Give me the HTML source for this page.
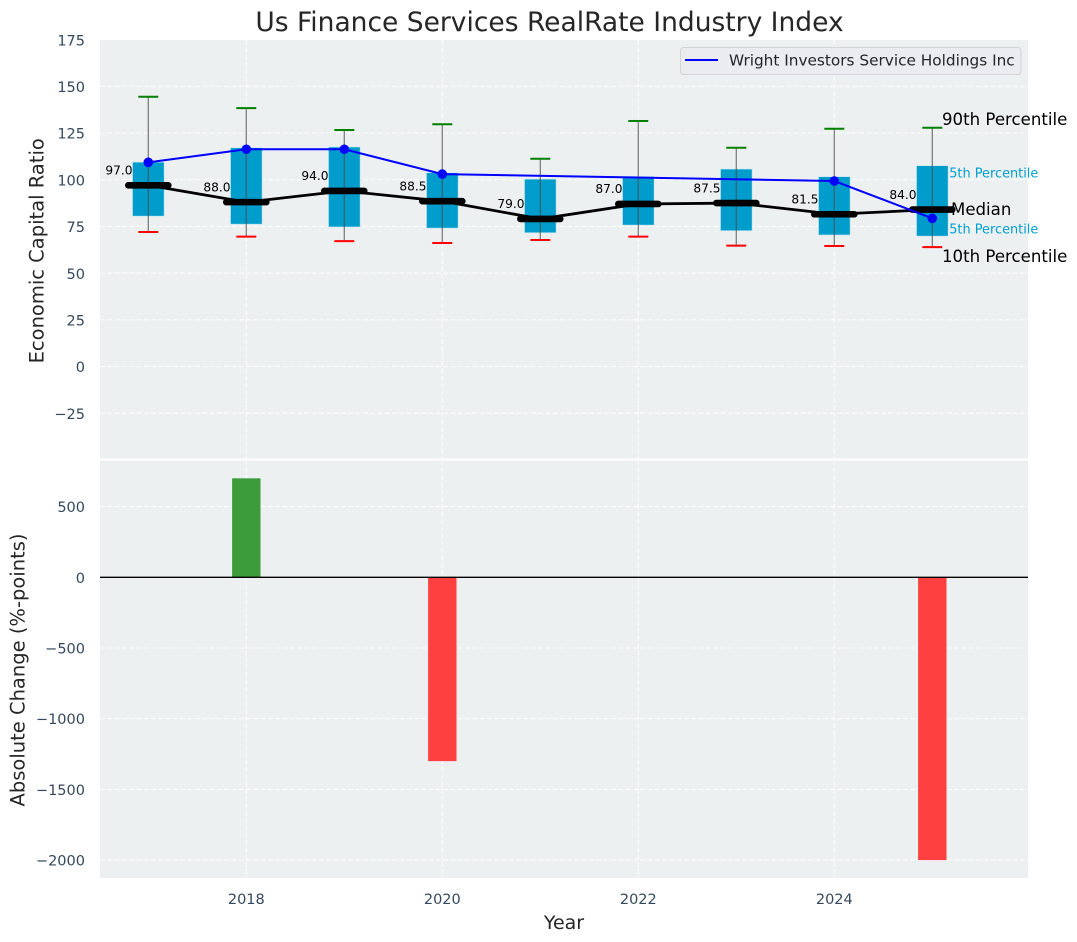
<!DOCTYPE html>
<html lang="en">
<head>
<meta charset="utf-8">
<title>Us Finance Services RealRate Industry Index</title>
<style>
html,body{margin:0;padding:0;background:#fff;}
svg{display:block;font-family:"DejaVu Sans","Liberation Sans",sans-serif;}
</style>
</head>
<body>
<svg id="chart" xmlns="http://www.w3.org/2000/svg" width="1077" height="942" viewBox="0 0 1077 942">
  <rect width="1077" height="942" fill="#ffffff"/>
  <rect x="100" y="40" width="928" height="418.5" fill="#ecf0f1"/>
  <rect x="100" y="460.5" width="928" height="417.5" fill="#ecf0f1"/>
  <g id="grid"></g>
  <g id="annot">
    <text x="942" y="125" font-size="16.6" fill="#000">90th Percentile</text>
    <text x="941" y="177.5" font-size="12.9" fill="#00a0d0">75th Percentile</text>
    <text x="951" y="215" font-size="16.6" fill="#000">Median</text>
    <text x="941" y="233.5" font-size="12.9" fill="#00a0d0">25th Percentile</text>
    <text x="942" y="262" font-size="16.6" fill="#000">10th Percentile</text>
  </g>
  <g id="marks"></g>
  <g id="axes"></g>
  <text x="549.5" y="31" text-anchor="middle" font-size="26.5" fill="#262626">Us Finance Services RealRate Industry Index</text>
  <text transform="translate(43.5,250.8) rotate(-90)" text-anchor="middle" font-size="19.5" fill="#262626">Economic Capital Ratio</text>
  <text transform="translate(24.5,670) rotate(-90)" text-anchor="middle" font-size="19.5" fill="#262626">Absolute Change (%-points)</text>
  <text x="564" y="929" text-anchor="middle" font-size="19" fill="#262626">Year</text>
  <g>
    <rect x="680.5" y="47.5" width="340.5" height="27" rx="3" fill="#eaecef" stroke="#d2d4d6" stroke-width="1"/>
    <line x1="685" y1="60" x2="718" y2="60" stroke="#0000ff" stroke-width="2"/>
    <text x="729" y="65.5" font-size="15.3" fill="#262626">Wright Investors Service Holdings Inc</text>
  </g>
</svg>
<script>
const years = [2017, 2018, 2019, 2020, 2021, 2022, 2023, 2024, 2025];
const p90 = [144.4, 138.3, 126.6, 129.7, 111.2, 131.4, 117.1, 127.3, 127.8];
const p75 = [109.4, 117.1, 117.5, 103.7, 100.3, 101.7, 105.7, 101.6, 107.5];
const medians = [97, 88, 94, 88.5, 79, 87, 87.5, 81.5, 84];
const p25 = [80.5, 76.2, 74.7, 74.1, 71.6, 75.7, 72.7, 70.4, 69.8];
const p10 = [72, 69.5, 67.1, 66.1, 67.7, 69.5, 64.7, 64.5, 63.9];
const companyValues = [109.3, 116.3, 116.3, 103, null, null, null, 99.3, 79.3];
const changeYears = [2018, 2020, 2025];
const changeValues = [700, -1300, -2000];
const topTicks = [175, 150, 125, 100, 75, 50, 25, 0, -25];
const bottomTicks = [500, 0, -500, -1000, -1500, -2000];
const xTicks = [2018, 2020, 2022, 2024];

const NS = 'http://www.w3.org/2000/svg';
function xAt(y) { return 148.3 + (y - 2017) * 98; }
function yTop(v) { return 366.5 - 1.868 * v; }
function yBottom(v) { return 577.3 - 0.1414 * v; }
function fmtTick(v) { return v < 0 ? '\u2212' + Math.abs(v) : String(v); }
function mk(parent, tag, attrs, text) {
  const el = document.createElementNS(NS, tag);
  for (const k in attrs) el.setAttribute(k, attrs[k]);
  if (text !== undefined) el.textContent = text;
  parent.appendChild(el);
  return el;
}
const grid = document.getElementById('grid');
const marks = document.getElementById('marks');
const axes = document.getElementById('axes');
const gridStyle = { stroke: '#ffffff', 'stroke-width': 1.1, 'stroke-dasharray': '5 2.3', opacity: 0.8 };
const tickFill = '#34495e';

topTicks.forEach(function (t) {
  const l = mk(grid, 'line', Object.assign({ x1: 100, x2: 1028, y1: yTop(t), y2: yTop(t) }, gridStyle));
  
  
  const lab = mk(axes, 'text', { x: 85, y: yTop(t) + 5.7, 'text-anchor': 'end', 'font-size': 14.5, fill: tickFill }, fmtTick(t));
  
  
});
bottomTicks.forEach(function (t) {
  const l = mk(grid, 'line', Object.assign({ x1: 100, x2: 1028, y1: yBottom(t), y2: yBottom(t) }, gridStyle));
  
  
  const lab = mk(axes, 'text', { x: 85, y: yBottom(t) + 5.5, 'text-anchor': 'end', 'font-size': 14.5, fill: tickFill }, fmtTick(t));
  
  
});
xTicks.forEach(function (t) {
  const a = mk(grid, 'line', Object.assign({ x1: xAt(t), x2: xAt(t), y1: 40, y2: 458.5 }, gridStyle));
  
  
  const b = mk(grid, 'line', Object.assign({ x1: xAt(t), x2: xAt(t), y1: 460.5, y2: 878 }, gridStyle));
  
  
  const lab = mk(axes, 'text', { x: xAt(t), y: 904, 'text-anchor': 'middle', 'font-size': 14.5, fill: tickFill }, String(t));
  
  
});

years.forEach(function (yr, i) {
  const lab = mk(marks, 'text', { x: xAt(yr) - 15.8, y: yTop(medians[i]) - 10.8, 'text-anchor': 'end', 'font-size': 12.2, fill: '#000' }, medians[i].toFixed(1));
  
  
  const box = mk(marks, 'rect', { x: xAt(yr) - 15.8, width: 31.6, y: yTop(p75[i]), height: yTop(p25[i]) - yTop(p75[i]), fill: '#009ccc', stroke: '#c5e6f0', 'stroke-width': 0.6 });
  
  
  const w = mk(marks, 'line', { x1: xAt(yr), x2: xAt(yr), y1: yTop(p90[i]), y2: yTop(p10[i]), stroke: '#4d4d4d', 'stroke-opacity': 0.7, 'stroke-width': 1.3 });
  
  
  const hi = mk(marks, 'line', { x1: xAt(yr) - 10, x2: xAt(yr) + 10, y1: yTop(p90[i]), y2: yTop(p90[i]), stroke: '#008000', 'stroke-width': 2 });
  
  
  const lo = mk(marks, 'line', { x1: xAt(yr) - 10, x2: xAt(yr) + 10, y1: yTop(p10[i]), y2: yTop(p10[i]), stroke: '#ff0000', 'stroke-width': 2 });
  
  
});

const medianPts = years.map(function (yr, i) { return xAt(yr) + ',' + yTop(medians[i]); }).join(' ');
const medianLine = mk(marks, 'polyline', { points: medianPts, fill: 'none', stroke: '#000', 'stroke-width': 2.8 });


years.forEach(function (yr, i) {
  const m = mk(marks, 'line', { x1: xAt(yr) - 20, x2: xAt(yr) + 20, y1: yTop(medians[i]), y2: yTop(medians[i]), stroke: '#000', 'stroke-width': 6.6, 'stroke-linecap': 'round' });
  
  
});

const companyPts = years.map(function (yr, i) { return companyValues[i] === null ? null : xAt(yr) + ',' + yTop(companyValues[i]); }).filter(Boolean).join(' ');
const companyLine = mk(marks, 'polyline', { points: companyPts, fill: 'none', stroke: '#0000ff', 'stroke-width': 2 });


years.forEach(function (yr, i) {
  if (companyValues[i] === null) return;
  const d = mk(marks, 'circle', { cx: xAt(yr), cy: yTop(companyValues[i]), r: 4.8, fill: '#0000ff' });
  
  
});

changeYears.forEach(function (yr, i) {
  const v = changeValues[i];
  const bar = mk(marks, 'rect', { x: xAt(yr) - 14.2, width: 28.4, y: Math.min(yBottom(v), yBottom(0)), height: Math.abs(yBottom(v) - yBottom(0)), fill: v >= 0 ? '#3c9c3c' : '#ff4040' });
  
  
});
const zero = mk(marks, 'line', { x1: 100, x2: 1028, y1: yBottom(0), y2: yBottom(0), stroke: '#000', 'stroke-width': 1.4 });


</script>
</body>
</html>
